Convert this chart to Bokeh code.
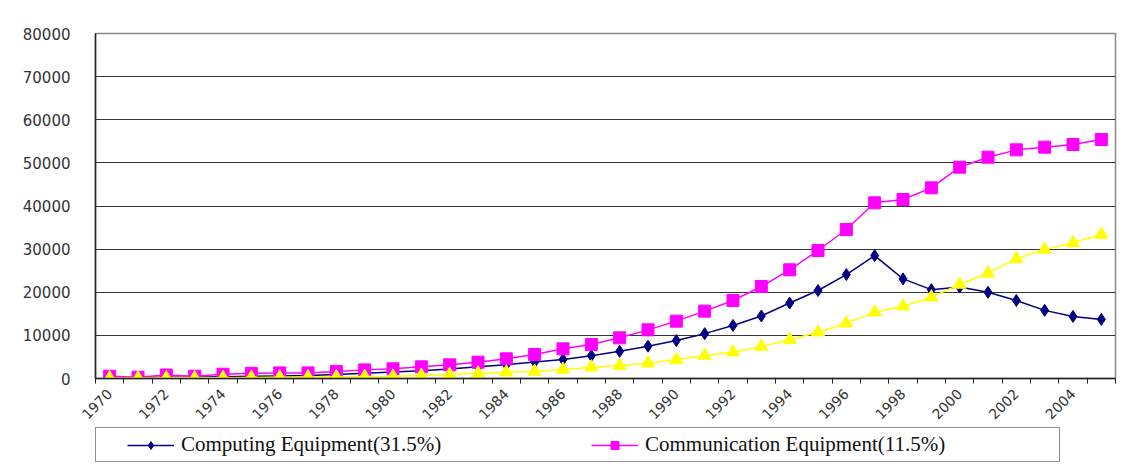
from bokeh.plotting import figure
from bokeh.layouts import column
from bokeh.models import (Range1d, FixedTicker, Legend, LegendItem, ColumnDataSource)
from bokeh.embed import file_html
from bokeh.resources import INLINE
import math

years = list(range(1970, 2006))
computing = [200, 200, 300, 300, 400, 500, 600, 700, 900, 1200, 1500, 1800,
             2200, 2700, 3200, 3800, 4400, 5300, 6300, 7500, 8800, 10400,
             12300, 14500, 17500, 20400, 24100, 28500, 23100, 20600, 21200,
             20000, 18100, 15800, 14400, 13700]
communication = [530, 300, 800, 530, 1000, 1200, 1300, 1300, 1600, 2000, 2250,
                 2700, 3170, 3780, 4560, 5560, 6880, 7880, 9430, 11280, 13300,
                 15620, 18090, 21330, 25200, 29680, 34550, 40740, 41510, 44210,
                 49000, 51320, 53020, 53640, 54260, 55420]
third_series = [100, 100, 150, 150, 200, 250, 300, 350, 400, 450, 500, 700,
                930, 1240, 1470, 1620, 2090, 2630, 3010, 3550, 4330, 5330,
                6100, 7420, 8970, 10740, 12830, 15380, 16770, 18860, 21800,
                24420, 27750, 29910, 31460, 33390]
y_ticks = [0, 10000, 20000, 30000, 40000, 50000, 60000, 70000, 80000]
label_years = list(range(1970, 2005, 2))
legend_labels = ["Computing Equipment(31.5%)", "Communication Equipment(11.5%)"]

idx = list(range(len(years)))
src = ColumnDataSource(dict(x=idx, comp=computing, comm=communication, third=third_series))

navy = "#000080"
magenta = "#FF00FF"
yellow = "#FFFF00"

p = figure(frame_width=1020, frame_height=345, output_backend="svg", toolbar_location=None,
           x_range=Range1d(-0.5, len(years) - 0.5), y_range=Range1d(0, 80000),
           min_border_left=95, min_border_right=17, min_border_top=33, min_border_bottom=0)
p.background_fill_color = "white"
p.border_fill_color = "white"
p.outline_line_color = "#888888"
p.outline_line_width = 1.5

xt = FixedTicker(ticks=[years.index(y) for y in label_years],
                 minor_ticks=[i - 0.5 for i in range(len(years) + 1)])
p.xaxis.ticker = xt
p.xaxis.major_label_overrides = {years.index(y): str(y) for y in label_years}
p.xaxis.major_label_orientation = math.pi / 4
p.xaxis.major_tick_in = 0
p.xaxis.major_tick_out = 0
p.xaxis.minor_tick_in = 0
p.xaxis.minor_tick_out = 5
p.xaxis.minor_tick_line_color = "#222222"
p.xaxis.axis_line_color = "#222222"
p.xaxis.axis_line_width = 1.5
p.xaxis.major_label_standoff = 8
p.xaxis.major_label_text_font = "DejaVu Sans"
p.xaxis.major_label_text_font_size = "14px"
p.xaxis.major_label_text_color = "#333333"

p.yaxis.ticker = FixedTicker(ticks=y_ticks)
p.yaxis.major_label_overrides = {t: str(t) for t in y_ticks}
p.yaxis.major_tick_in = 0
p.yaxis.major_tick_out = 0
p.yaxis.minor_tick_line_color = None
p.yaxis.axis_line_color = "#222222"
p.yaxis.axis_line_width = 1.5
p.yaxis.major_label_standoff = 25
p.yaxis.major_label_text_font = "DejaVu Sans"
p.yaxis.major_label_text_font_size = "15px"
p.yaxis.major_label_text_color = "#333333"

p.xgrid.grid_line_color = None
p.ygrid.grid_line_color = "#333333"
p.ygrid.grid_line_width = 1

p.line("x", "comp", source=src, line_color=navy, line_width=1.5)
p.scatter("x", "comp", source=src, marker="diamond", size=12,
          fill_color=navy, line_color=navy)
p.line("x", "comm", source=src, line_color=magenta, line_width=1.5)
p.scatter("x", "comm", source=src, marker="square", size=12,
          fill_color=magenta, line_color=magenta)
p.line("x", "third", source=src, line_color=yellow, line_width=1.5)
p.scatter("x", "third", source=src, marker="triangle", size=13,
          fill_color=yellow, line_color=yellow)

# legend strip (its renderers fall outside its range; only the legend shows)
q = figure(width=1132, height=38, output_backend="svg", toolbar_location=None,
           x_range=Range1d(-1000, -999), y_range=Range1d(-1000, -999),
           x_axis_type=None, y_axis_type=None, min_border=0)
q.outline_line_color = None
q.background_fill_color = "white"
q.border_fill_color = "white"
q.xgrid.grid_line_color = None
q.ygrid.grid_line_color = None
ql1 = q.line("x", "comp", source=src, line_color=navy, line_width=1.5)
qs1 = q.scatter("x", "comp", source=src, marker="diamond", size=12,
                fill_color=navy, line_color=navy)
ql2 = q.line("x", "comm", source=src, line_color=magenta, line_width=1.5)
qs2 = q.scatter("x", "comm", source=src, marker="square", size=12,
                fill_color=magenta, line_color=magenta)

legend = Legend(items=[LegendItem(label=legend_labels[0], renderers=[ql1, qs1]),
                       LegendItem(label=legend_labels[1], renderers=[ql2, qs2])],
                location=(0, 2), orientation="horizontal")
legend.title = " "
legend.title_location = "left"
legend.title_text_font_size = "10px"
legend.title_standoff = 16
legend.padding = 4
legend.spacing = 0
legend.margin = 0
legend.glyph_width = 47
legend.glyph_height = 20
legend.label_standoff = 7
legend.label_width = 410
legend.label_text_font = "Liberation Serif"
legend.label_text_font_size = "21px"
legend.label_text_color = "#111111"
legend.border_line_color = "#222222"
legend.border_line_width = 1
legend.background_fill_color = "white"
legend.background_fill_alpha = 1
q.add_layout(legend, "center")

layout = column(p, q, spacing=0)
open("out.html", "w").write(file_html(layout, INLINE))
